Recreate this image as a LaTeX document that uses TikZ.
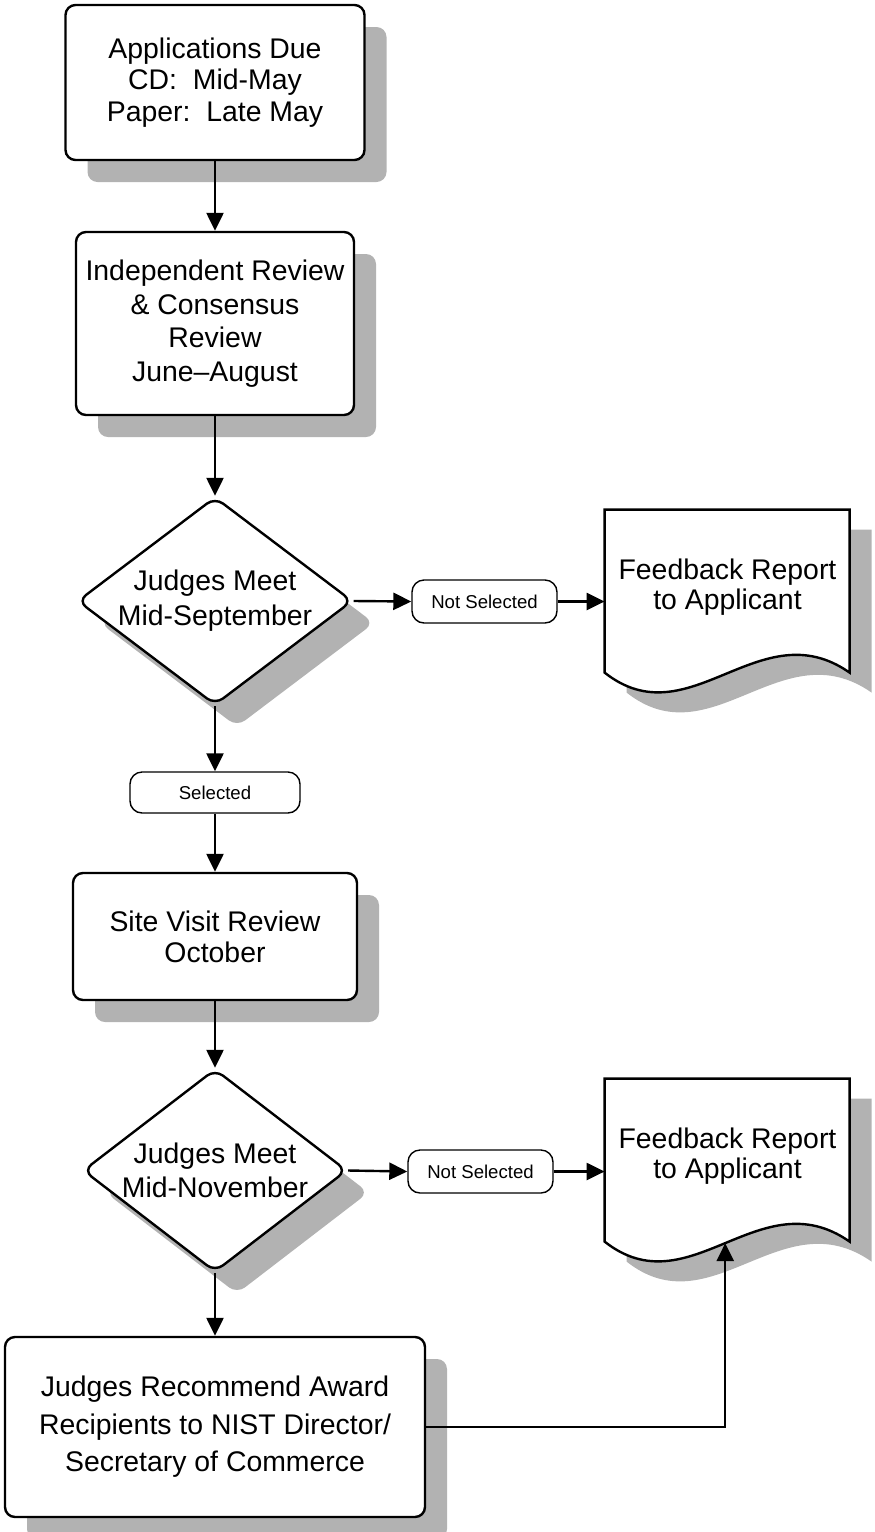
\documentclass[tikz,border=0pt]{standalone}
\usepackage{fontspec}
\setmainfont{Liberation Sans}
\usetikzlibrary{shapes.geometric,shadows,arrows.meta,backgrounds}

\tikzset{
  boxshadow/.style={general shadow={shadow xshift=11pt,shadow yshift=-11pt,fill=black!30}},
  bodytext/.style={font=\fontsize{14.2}{#1}\selectfont},
  box/.style={rectangle, draw, line width=1.2pt, rounded corners=5pt, fill=white, align=center, inner sep=0pt, boxshadow},
  decision/.style={diamond, draw, line width=1.2pt, rounded corners=5pt, fill=white, inner sep=0pt, boxshadow},
  tag/.style={rectangle, draw, line width=0.7pt, rounded corners=6pt, fill=white, minimum width=72.5pt, minimum height=21.5pt, inner sep=0pt, font=\fontsize{9.3}{11}\selectfont},
  docframe/.style={rectangle, minimum width=122.5pt, minimum height=91.5pt, inner sep=0pt},
  flow/.style={line width=1.2pt, -{Triangle[length=9pt,width=8.5pt]}},
  leg/.style={line width=1.2pt}
}

% paper sheet with wavy bottom, laid over a named frame node
\newcommand{\docshape}[2]{%
  \begin{scope}[on background layer, shift={(#1.north west)}]
    \fill[black!30] (22,20) -- (267,20) -- (267,183) .. controls (177,120) and (107,250) .. (22,183) -- cycle;
    \draw[fill=white, line width=1.2pt] (0,0) -- (245,0) -- (245,163) .. controls (155,100) and (85,230) .. (0,163) coordinate[pos=.5] (#2) -- cycle;
  \end{scope}}

\begin{document}
\begin{tikzpicture}[x=0.5pt,y=-0.5pt]
\useasboundingbox (0,0) rectangle (874,1532);

\node[box, minimum width=149.5pt, minimum height=77.5pt, bodytext=15.75] (apps) at (215,82.5) {Applications Due\\CD:\ \ Mid-May\\Paper:\ \ Late May};
\node[box, minimum width=139pt, minimum height=91.5pt, bodytext=16.8] (indep) at (215,323.5) {Independent Review\\\& Consensus\\Review\\June–August};

\node[decision, minimum width=137.5pt, minimum height=104pt] (judge1) at (215,601) {};
\node[bodytext=17.5, align=center] (judge1txt) at (judge1) {Judges Meet\\Mid-September};
\node[tag] (notsel1) at (484.5,601.5) {Not Selected};
\node[docframe] (fb1) at (727.5,601.5) {}; \docshape{fb1}{wave1}
\node[bodytext=15, align=center] (fb1txt) at ([yshift=7pt]fb1.center) {Feedback Report\\to Applicant};

\node[tag, minimum width=85pt, minimum height=20.5pt] (sel) at (215,792.5) {Selected};
\node[box, minimum width=142pt, minimum height=63.5pt, bodytext=15.5] (site) at (215,936.5) {Site Visit Review\\October};

\node[decision, minimum width=132pt, minimum height=101.5pt] (judge2) at (215,1170.5) {};
\node[bodytext=17, align=center] (judge2txt) at (judge2) {Judges Meet\\Mid-November};
\node[tag] (notsel2) at (480.5,1171.5) {Not Selected};
\node[docframe] (fb2) at (727.5,1170.5) {}; \docshape{fb2}{wave2}
\node[bodytext=15, align=center] (fb2txt) at ([yshift=7pt]fb2.center) {Feedback Report\\to Applicant};

\node[box, minimum width=210pt, minimum height=90pt, bodytext=18.75] (recom) at (215,1427) {Judges Recommend Award\\Recipients to NIST Director/\\Secretary of Commerce};

\draw[flow] (apps) -- (indep); \draw[flow] (indep) -- (judge1);
\draw[flow] (judge1.east) -- (notsel1.west); \draw[flow] (notsel1.east) -- (notsel1.east -| fb1.west);
\draw[flow] (judge1.south) -- (sel.north); \draw[flow] (sel.south) -- (site.north);
\draw[flow] (site) -- (judge2);
\draw[flow] (judge2.east) -- (notsel2.west); \draw[flow] (notsel2.east) -- (notsel2.east -| fb2.west);
\draw[flow] (judge2.south) -- (recom.north);
\draw[flow] (recom.east) -| (wave2);

\end{tikzpicture}
\end{document}
